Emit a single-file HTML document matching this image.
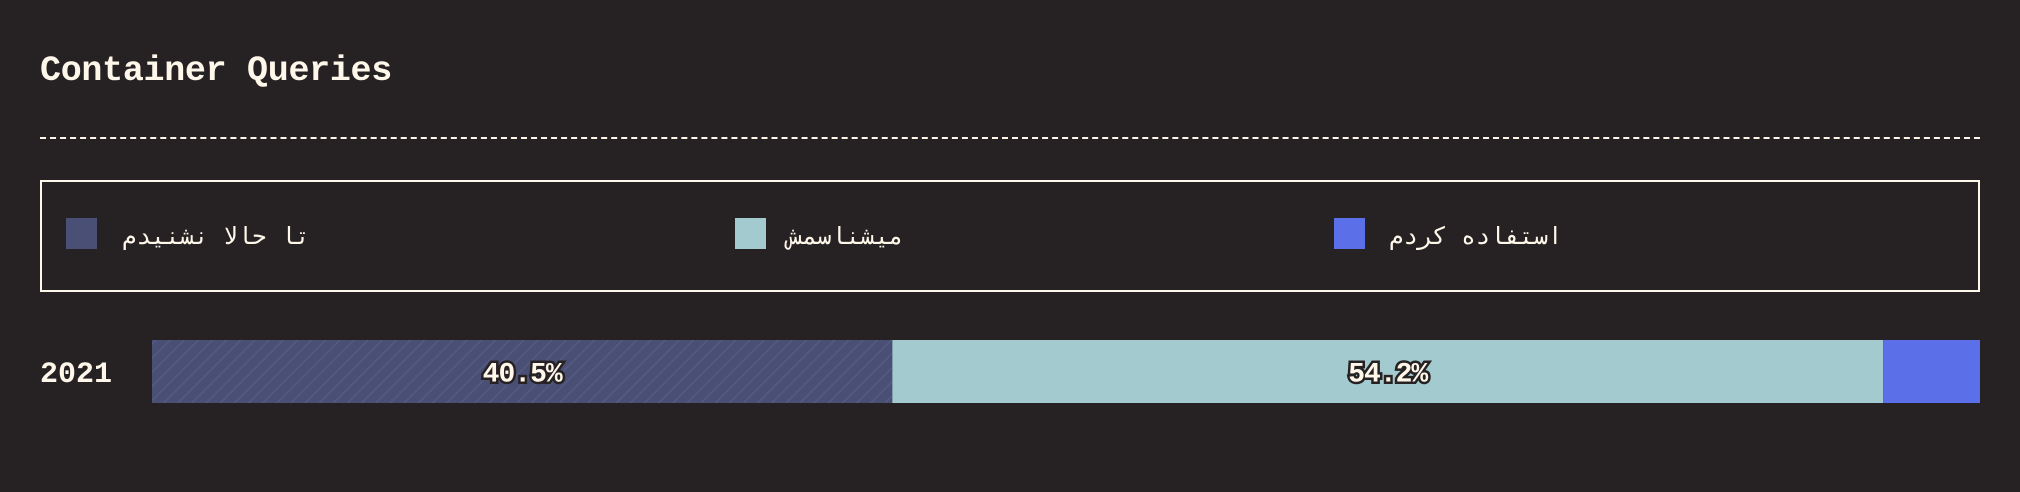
<!DOCTYPE html>
<html><head><meta charset="utf-8">
<style>
html,body{margin:0;padding:0;background:#262224;width:2020px;height:492px;overflow:hidden}
body{position:relative;font-family:"Liberation Mono",monospace;color:#fff8ea}
.title{position:absolute;left:40px;top:51px;font-size:35px;font-weight:bold;letter-spacing:-0.3px}
.dash{position:absolute;left:40px;top:137px;width:1940px;border-top:2px dashed #fff8ea}
.legend{position:absolute;left:40px;top:180px;width:1936px;height:108px;border:2px solid #fff8ea}
.sw{position:absolute;top:36px;width:31px;height:31px}
.lt{position:absolute;top:40px;font-family:"DejaVu Sans Mono","DejaVu Sans",monospace;font-size:24px;letter-spacing:1px;white-space:nowrap;direction:rtl;unicode-bidi:plaintext}
.year{position:absolute;left:40px;top:358px;font-size:30px;font-weight:bold}
svg{position:absolute;left:0;top:0}
</style></head><body>
<div class="title">Container Queries</div>
<div class="dash"></div>
<div class="legend">
  <div class="sw" style="left:24px;background:#4a5075"></div>
  <div class="lt" style="left:80px">تا حالا نشنیدم</div>
  <div class="sw" style="left:693px;background:#a3cace"></div>
  <div class="lt" style="left:746px">میشناسمش</div>
  <div class="sw" style="left:1292px;background:#5a6fe8"></div>
  <div class="lt" style="left:1347px">استفاده کردم</div>
</div>
<div class="year">2021</div>
<svg id="chart" width="2020" height="492">
  <defs>
    <pattern id="hatch" width="10" height="10" patternUnits="userSpaceOnUse" patternTransform="rotate(45)">
      <rect width="10" height="10" fill="#4a5075"/>
      <line x1="0" y1="0" x2="0" y2="10" stroke="#555b80" stroke-width="3"/>
    </pattern>
  </defs>
</svg>
<script>
const categories = ["never-heard","know","used"];
const values = [40.5, 54.2, 5.3];
const labels = ["40.5%","54.2%",""];
const fills = ["url(#hatch)","#a3cace","#5a6fe8"];
const x0 = 152, x1 = 1980, y = 340, h = 63;
const total = values.reduce((a,b)=>a+b,0);
function xScale(v){ return x0 + (v/total)*(x1-x0); }
const svg = document.getElementById('chart');
const NS = 'http://www.w3.org/2000/svg';
let acc = 0;
values.forEach((v,i)=>{
  const a = xScale(acc), b = xScale(acc+v);
  const r = document.createElementNS(NS,'rect');
  r.setAttribute('x',a); r.setAttribute('y',y);
  r.setAttribute('width',b-a); r.setAttribute('height',h);
  r.setAttribute('fill',fills[i]);
  
  
  svg.appendChild(r);
  if(labels[i]){
    const t = document.createElementNS(NS,'text');
    t.setAttribute('x',(a+b)/2); t.setAttribute('y',y+h/2+10);
    t.setAttribute('text-anchor','middle');
    t.setAttribute('font-family','Liberation Mono, monospace');
    t.setAttribute('font-weight','bold');
    t.setAttribute('font-size','28');
    t.setAttribute('letter-spacing','-1');
    t.setAttribute('fill','#fff8ea');
    t.setAttribute('stroke','#262224');
    t.setAttribute('stroke-width','5');
    t.setAttribute('paint-order','stroke');
    t.textContent = labels[i];
    
    
    svg.appendChild(t);
  }
  acc += v;
});
</script>
</body></html>
